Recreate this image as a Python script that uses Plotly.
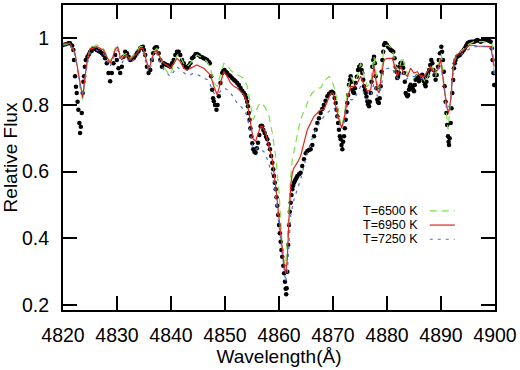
import plotly.graph_objects as go

# Observed spectrum (wavelength in Angstrom, relative flux)
observed = [
    (4820.00, 0.980), (4820.50, 0.982), (4821.00, 0.985), (4821.30, 0.985), (4821.70, 0.978),
    (4821.92, 0.965), (4822.04, 0.935), (4822.23, 0.886), (4822.40, 0.855), (4822.54, 0.836),
    (4822.70, 0.810), (4822.85, 0.786), (4823.03, 0.746), (4823.16, 0.716), (4823.30, 0.735),
    (4823.47, 0.776), (4823.65, 0.836), (4823.78, 0.870), (4823.90, 0.886), (4824.05, 0.915),
    (4824.21, 0.935), (4824.52, 0.945), (4824.80, 0.952), (4825.02, 0.960), (4825.30, 0.962),
    (4825.63, 0.970), (4826.00, 0.968), (4826.25, 0.965), (4826.60, 0.962), (4826.87, 0.960),
    (4827.20, 0.955), (4827.49, 0.950), (4827.80, 0.940), (4828.11, 0.925), (4828.42, 0.896),
    (4828.73, 0.871), (4829.04, 0.896), (4829.35, 0.925), (4829.66, 0.950), (4829.97, 0.935),
    (4830.28, 0.910), (4830.59, 0.896), (4830.90, 0.915), (4831.21, 0.945), (4831.52, 0.960),
    (4831.83, 0.955), (4832.15, 0.945), (4832.45, 0.935), (4832.75, 0.938), (4833.07, 0.940),
    (4833.38, 0.948), (4833.68, 0.955), (4834.00, 0.962), (4834.30, 0.970), (4834.55, 0.973),
    (4834.80, 0.975), (4835.00, 0.965), (4835.23, 0.950), (4835.54, 0.915), (4835.85, 0.896),
    (4836.16, 0.905), (4836.47, 0.935), (4836.70, 0.955), (4836.97, 0.970), (4837.20, 0.973),
    (4837.40, 0.973), (4837.71, 0.955), (4838.02, 0.935), (4838.33, 0.915), (4838.64, 0.925),
    (4838.95, 0.922), (4839.26, 0.920), (4839.57, 0.918), (4839.88, 0.915), (4840.20, 0.925),
    (4840.50, 0.935), (4840.80, 0.950), (4841.11, 0.960), (4841.42, 0.960), (4841.73, 0.950),
    (4842.05, 0.935), (4842.35, 0.925), (4842.66, 0.915), (4842.97, 0.910), (4843.28, 0.918),
    (4843.59, 0.925), (4843.90, 0.940), (4844.21, 0.945), (4844.52, 0.952), (4844.83, 0.953),
    (4845.14, 0.950), (4845.45, 0.945), (4845.76, 0.943), (4846.07, 0.940), (4846.38, 0.938),
    (4846.69, 0.935), (4847.00, 0.930), (4847.18, 0.925), (4847.43, 0.886), (4847.62, 0.846),
    (4847.80, 0.820), (4847.93, 0.811), (4848.15, 0.800), (4848.42, 0.786), (4848.62, 0.800),
    (4848.85, 0.826), (4849.16, 0.866), (4849.47, 0.896), (4849.70, 0.903), (4849.91, 0.905),
    (4850.15, 0.900), (4850.40, 0.896), (4850.70, 0.890), (4851.02, 0.886), (4851.33, 0.880),
    (4851.64, 0.876), (4851.95, 0.871), (4852.26, 0.866), (4852.57, 0.860), (4852.88, 0.851),
    (4853.20, 0.843), (4853.50, 0.836), (4853.75, 0.830), (4853.93, 0.821), (4854.10, 0.810),
    (4854.24, 0.796), (4854.40, 0.776), (4854.55, 0.756), (4854.70, 0.730), (4854.86, 0.706),
    (4855.05, 0.685), (4855.23, 0.667), (4855.45, 0.660), (4855.67, 0.657), (4855.90, 0.670),
    (4856.10, 0.687), (4856.35, 0.710), (4856.59, 0.736), (4856.75, 0.738), (4856.90, 0.736),
    (4857.10, 0.725), (4857.34, 0.716), (4857.60, 0.705), (4857.83, 0.697), (4858.08, 0.682),
    (4858.33, 0.667), (4858.55, 0.647), (4858.76, 0.627), (4858.92, 0.607), (4859.07, 0.587),
    (4859.22, 0.567), (4859.38, 0.547), (4859.54, 0.523), (4859.69, 0.498), (4859.85, 0.470),
    (4860.00, 0.440), (4860.15, 0.415), (4860.31, 0.390), (4860.45, 0.365), (4860.60, 0.345),
    (4860.80, 0.318), (4860.95, 0.295), (4861.10, 0.270), (4861.23, 0.249), (4861.33, 0.232),
    (4861.42, 0.250), (4861.54, 0.300), (4861.70, 0.380), (4861.85, 0.440), (4862.00, 0.480),
    (4862.16, 0.507), (4862.31, 0.530), (4862.47, 0.547), (4862.62, 0.558), (4862.78, 0.567),
    (4862.93, 0.572), (4863.09, 0.577), (4863.25, 0.582), (4863.40, 0.587), (4863.70, 0.592),
    (4864.00, 0.597), (4864.30, 0.617), (4864.63, 0.637), (4864.95, 0.655), (4865.25, 0.662),
    (4865.55, 0.665), (4865.86, 0.667), (4866.17, 0.680), (4866.48, 0.706), (4866.80, 0.726),
    (4867.10, 0.746), (4867.40, 0.760), (4867.70, 0.776), (4868.00, 0.788), (4868.30, 0.800),
    (4868.62, 0.813), (4868.95, 0.826), (4869.25, 0.833), (4869.57, 0.838), (4869.80, 0.840),
    (4870.06, 0.836), (4870.30, 0.821), (4870.50, 0.806), (4870.65, 0.786), (4870.80, 0.766),
    (4870.95, 0.746), (4871.10, 0.726), (4871.27, 0.706), (4871.42, 0.697), (4871.58, 0.680),
    (4871.73, 0.667), (4871.88, 0.690), (4872.04, 0.706), (4872.20, 0.730), (4872.35, 0.756),
    (4872.50, 0.780), (4872.65, 0.806), (4872.80, 0.830), (4872.96, 0.861), (4873.12, 0.875),
    (4873.27, 0.886), (4873.42, 0.870), (4873.58, 0.846), (4873.75, 0.838), (4873.90, 0.836),
    (4874.05, 0.850), (4874.20, 0.866), (4874.40, 0.885), (4874.63, 0.905), (4874.85, 0.915),
    (4875.12, 0.920), (4875.30, 0.905), (4875.43, 0.896), (4875.60, 0.876), (4875.74, 0.856),
    (4875.90, 0.845), (4876.05, 0.836), (4876.20, 0.825), (4876.36, 0.811), (4876.50, 0.802),
    (4876.67, 0.796), (4876.82, 0.810), (4876.98, 0.836), (4877.13, 0.870), (4877.28, 0.915),
    (4877.45, 0.935), (4877.60, 0.945), (4877.75, 0.925), (4877.90, 0.886), (4878.05, 0.850),
    (4878.20, 0.816), (4878.35, 0.808), (4878.50, 0.806), (4878.65, 0.820), (4878.83, 0.856),
    (4879.00, 0.900), (4879.14, 0.935), (4879.30, 0.960), (4879.44, 0.980), (4879.60, 0.985),
    (4879.75, 0.985), (4880.00, 0.980), (4880.19, 0.975), (4880.45, 0.970), (4880.68, 0.965),
    (4880.92, 0.963), (4881.17, 0.960), (4881.40, 0.940), (4881.60, 0.915), (4881.75, 0.900),
    (4881.90, 0.881), (4882.05, 0.885), (4882.20, 0.896), (4882.35, 0.915), (4882.50, 0.925),
    (4882.67, 0.927), (4882.84, 0.925), (4883.00, 0.912), (4883.15, 0.896), (4883.30, 0.870),
    (4883.46, 0.836), (4883.62, 0.830), (4883.77, 0.826), (4883.92, 0.830), (4884.07, 0.846),
    (4884.22, 0.855), (4884.38, 0.861), (4884.55, 0.855), (4884.70, 0.851), (4884.85, 0.846),
    (4885.00, 0.841), (4885.15, 0.860), (4885.30, 0.876), (4885.45, 0.882), (4885.62, 0.886),
    (4885.78, 0.880), (4885.93, 0.871), (4886.08, 0.878), (4886.23, 0.886), (4886.38, 0.888),
    (4886.54, 0.891), (4886.70, 0.880), (4886.85, 0.871), (4887.00, 0.862), (4887.16, 0.856),
    (4887.30, 0.870), (4887.47, 0.886), (4887.62, 0.896), (4887.80, 0.905), (4888.00, 0.920),
    (4888.20, 0.935), (4888.40, 0.925), (4888.60, 0.905), (4888.80, 0.890), (4889.00, 0.876),
    (4889.20, 0.890), (4889.44, 0.915), (4889.60, 0.935), (4889.80, 0.955), (4890.06, 0.975),
    (4890.20, 0.960), (4890.37, 0.935), (4890.52, 0.900), (4890.68, 0.856), (4890.85, 0.810),
    (4891.00, 0.776), (4891.15, 0.740), (4891.30, 0.706), (4891.40, 0.690), (4891.48, 0.680),
    (4891.60, 0.700), (4891.80, 0.746), (4891.95, 0.790), (4892.10, 0.836), (4892.25, 0.875),
    (4892.40, 0.910), (4892.55, 0.925), (4892.70, 0.935), (4893.00, 0.945), (4893.25, 0.948),
    (4893.50, 0.950), (4893.75, 0.955), (4893.95, 0.960), (4894.20, 0.965), (4894.40, 0.970),
    (4894.65, 0.978), (4894.90, 0.985), (4895.20, 0.988), (4895.50, 0.990), (4895.80, 0.990),
    (4896.10, 0.990), (4896.40, 0.992), (4896.70, 0.995), (4897.00, 0.993), (4897.35, 0.990),
    (4897.65, 0.993), (4897.96, 0.995), (4898.30, 0.995), (4898.58, 0.995), (4898.90, 0.993),
    (4899.20, 0.990), (4899.40, 0.970), (4899.55, 0.935), (4899.70, 0.896), (4899.85, 0.860),
]

# Model T=6500 K
model_6500 = [
    (4820.00, 0.980), (4821.30, 0.985), (4822.23, 0.955), (4822.85, 0.890), (4823.28, 0.840),
    (4823.65, 0.816), (4824.08, 0.880), (4824.52, 0.935), (4825.02, 0.970), (4825.63, 0.975),
    (4826.25, 0.980), (4826.87, 0.975), (4827.49, 0.970), (4828.11, 0.950), (4828.73, 0.930),
    (4829.23, 0.950), (4829.66, 0.970), (4830.10, 0.980), (4830.59, 0.950), (4830.90, 0.940),
    (4831.21, 0.950), (4831.83, 0.955), (4832.45, 0.940), (4833.07, 0.950), (4833.68, 0.960),
    (4834.30, 0.975), (4834.80, 0.975), (4835.23, 0.950), (4835.54, 0.925), (4835.85, 0.910),
    (4836.16, 0.920), (4836.78, 0.960), (4837.40, 0.970), (4838.02, 0.940), (4838.64, 0.915),
    (4839.26, 0.900), (4839.88, 0.890), (4840.50, 0.920), (4841.11, 0.950), (4841.73, 0.945),
    (4842.35, 0.925), (4842.97, 0.915), (4843.59, 0.925), (4844.21, 0.940), (4844.83, 0.950),
    (4845.45, 0.945), (4846.07, 0.940), (4846.69, 0.930), (4847.31, 0.910), (4847.93, 0.866),
    (4848.55, 0.856), (4849.16, 0.890), (4849.78, 0.925), (4850.40, 0.920), (4851.02, 0.905),
    (4851.64, 0.896), (4852.26, 0.890), (4852.88, 0.886), (4853.50, 0.880), (4854.12, 0.856),
    (4854.74, 0.796), (4855.23, 0.756), (4855.67, 0.776), (4856.10, 0.796), (4856.59, 0.806),
    (4856.90, 0.806), (4857.52, 0.790), (4858.14, 0.766), (4858.76, 0.716), (4859.38, 0.646),
    (4860.00, 0.540), (4860.31, 0.450), (4860.62, 0.375), (4860.93, 0.335), (4861.23, 0.318),
    (4861.54, 0.396), (4861.85, 0.497), (4862.16, 0.587), (4862.47, 0.637), (4863.09, 0.687),
    (4863.71, 0.736), (4864.32, 0.771), (4864.94, 0.791), (4865.56, 0.821), (4866.17, 0.836),
    (4867.10, 0.851), (4867.72, 0.851), (4868.33, 0.871), (4869.26, 0.886), (4869.88, 0.871),
    (4870.49, 0.836), (4871.11, 0.766), (4871.60, 0.736), (4872.04, 0.766), (4872.65, 0.836),
    (4873.27, 0.886), (4873.89, 0.866), (4874.51, 0.886), (4875.12, 0.925), (4875.74, 0.886),
    (4876.36, 0.856), (4876.98, 0.866), (4877.28, 0.915), (4877.59, 0.945), (4878.21, 0.866),
    (4878.52, 0.836), (4879.14, 0.925), (4879.44, 0.975), (4880.06, 0.980), (4880.99, 0.970),
    (4881.60, 0.915), (4882.22, 0.905), (4882.84, 0.945), (4883.46, 0.905), (4884.07, 0.886),
    (4884.69, 0.876), (4885.31, 0.886), (4885.93, 0.896), (4886.54, 0.886), (4887.16, 0.866),
    (4887.78, 0.896), (4888.40, 0.915), (4889.01, 0.886), (4889.63, 0.925), (4890.06, 0.955),
    (4890.56, 0.856), (4891.05, 0.766), (4891.30, 0.726), (4891.79, 0.816), (4892.28, 0.915),
    (4892.72, 0.950), (4893.64, 0.960), (4894.88, 0.980), (4896.11, 0.990), (4897.96, 0.990),
    (4899.51, 0.980), (4899.90, 0.886),
]

# Model T=6950 K
model_6950 = [
    (4820.00, 0.985), (4821.30, 0.985), (4822.23, 0.955), (4822.85, 0.896), (4823.28, 0.846),
    (4823.65, 0.821), (4824.08, 0.886), (4824.52, 0.935), (4825.02, 0.970), (4825.63, 0.970),
    (4826.25, 0.975), (4826.87, 0.970), (4827.49, 0.965), (4828.11, 0.945), (4828.73, 0.925),
    (4829.23, 0.945), (4829.66, 0.965), (4830.10, 0.975), (4830.59, 0.945), (4830.90, 0.935),
    (4831.21, 0.945), (4831.83, 0.950), (4832.45, 0.935), (4833.07, 0.945), (4833.68, 0.955),
    (4834.30, 0.970), (4834.80, 0.970), (4835.23, 0.945), (4835.54, 0.925), (4835.85, 0.910),
    (4836.16, 0.920), (4836.78, 0.955), (4837.40, 0.965), (4838.02, 0.940), (4838.64, 0.925),
    (4839.26, 0.920), (4839.88, 0.910), (4840.50, 0.925), (4841.11, 0.940), (4841.73, 0.930),
    (4842.35, 0.910), (4842.97, 0.905), (4843.59, 0.910), (4844.21, 0.915), (4844.83, 0.920),
    (4845.45, 0.915), (4846.07, 0.910), (4846.69, 0.900), (4847.31, 0.890), (4847.93, 0.856),
    (4848.55, 0.831), (4849.16, 0.866), (4849.78, 0.901), (4850.40, 0.886), (4851.02, 0.866),
    (4851.64, 0.856), (4852.26, 0.851), (4852.88, 0.841), (4853.50, 0.831), (4854.12, 0.806),
    (4854.74, 0.746), (4855.23, 0.697), (4855.67, 0.692), (4856.10, 0.716), (4856.59, 0.736),
    (4856.90, 0.736), (4857.52, 0.716), (4858.14, 0.677), (4858.76, 0.637), (4859.38, 0.557),
    (4860.00, 0.455), (4860.31, 0.398), (4860.93, 0.318), (4861.23, 0.293), (4861.54, 0.338),
    (4861.85, 0.458), (4862.16, 0.557), (4862.47, 0.597), (4862.78, 0.612), (4863.40, 0.627),
    (4864.01, 0.647), (4864.63, 0.687), (4865.25, 0.726), (4865.86, 0.746), (4866.48, 0.766),
    (4867.10, 0.776), (4867.72, 0.786), (4868.33, 0.786), (4868.95, 0.811), (4869.57, 0.836),
    (4870.06, 0.836), (4870.49, 0.796), (4871.11, 0.756), (4871.60, 0.731), (4872.04, 0.756),
    (4872.65, 0.816), (4873.27, 0.856), (4873.89, 0.856), (4874.51, 0.866), (4875.12, 0.886),
    (4875.74, 0.861), (4876.36, 0.841), (4876.98, 0.846), (4877.28, 0.886), (4877.59, 0.915),
    (4878.21, 0.846), (4878.52, 0.836), (4879.14, 0.905), (4879.44, 0.935), (4880.06, 0.940),
    (4880.99, 0.940), (4881.60, 0.905), (4881.91, 0.886), (4882.53, 0.915), (4883.15, 0.896),
    (4883.77, 0.886), (4884.38, 0.910), (4885.00, 0.896), (4885.62, 0.900), (4886.23, 0.886),
    (4886.85, 0.886), (4887.47, 0.900), (4888.09, 0.915), (4888.70, 0.896), (4889.32, 0.905),
    (4889.94, 0.935), (4890.56, 0.866), (4891.05, 0.796), (4891.42, 0.776), (4891.79, 0.816),
    (4892.28, 0.915), (4892.72, 0.945), (4893.33, 0.955), (4894.26, 0.965), (4894.88, 0.975),
    (4895.49, 0.980), (4896.73, 0.977), (4897.96, 0.977), (4899.20, 0.975), (4899.85, 0.915),
]

# Model T=7250 K
model_7250 = [
    (4820.00, 0.980), (4821.30, 0.980), (4822.23, 0.950), (4822.85, 0.885), (4823.28, 0.850),
    (4823.65, 0.836), (4824.08, 0.880), (4824.52, 0.925), (4825.02, 0.955), (4825.63, 0.960),
    (4826.25, 0.965), (4826.87, 0.960), (4827.49, 0.955), (4828.11, 0.935), (4828.73, 0.915),
    (4829.23, 0.935), (4829.66, 0.955), (4830.10, 0.965), (4830.59, 0.935), (4830.90, 0.925),
    (4831.21, 0.935), (4831.83, 0.940), (4832.45, 0.925), (4833.07, 0.935), (4833.68, 0.945),
    (4834.30, 0.960), (4834.80, 0.960), (4835.23, 0.935), (4835.54, 0.915), (4835.85, 0.900),
    (4836.16, 0.910), (4836.78, 0.945), (4837.40, 0.955), (4838.02, 0.925), (4838.64, 0.905),
    (4839.26, 0.895), (4839.88, 0.886), (4840.50, 0.900), (4841.11, 0.915), (4841.73, 0.905),
    (4842.35, 0.896), (4842.97, 0.890), (4843.59, 0.891), (4844.21, 0.895), (4844.83, 0.892),
    (4845.45, 0.886), (4846.07, 0.880), (4846.69, 0.876), (4847.31, 0.860), (4847.93, 0.836),
    (4848.55, 0.831), (4849.16, 0.841), (4849.78, 0.851), (4850.40, 0.846), (4851.02, 0.836),
    (4851.64, 0.821), (4852.26, 0.806), (4852.88, 0.796), (4853.50, 0.786), (4854.12, 0.766),
    (4854.74, 0.716), (4855.23, 0.667), (4855.67, 0.667), (4856.10, 0.672), (4856.59, 0.667),
    (4857.20, 0.660), (4857.83, 0.637), (4858.45, 0.606), (4859.07, 0.567), (4859.69, 0.478),
    (4860.00, 0.438), (4860.31, 0.388), (4860.93, 0.298), (4861.23, 0.269), (4861.54, 0.298),
    (4861.85, 0.388), (4862.16, 0.468), (4862.78, 0.517), (4863.40, 0.547), (4864.01, 0.577),
    (4864.63, 0.617), (4865.25, 0.657), (4865.86, 0.687), (4866.48, 0.716), (4867.10, 0.736),
    (4867.72, 0.751), (4868.33, 0.766), (4868.95, 0.776), (4869.57, 0.786), (4870.18, 0.791),
    (4870.80, 0.766), (4871.42, 0.736), (4872.04, 0.746), (4872.65, 0.796), (4873.27, 0.816),
    (4873.89, 0.816), (4874.51, 0.836), (4875.12, 0.856), (4875.74, 0.836), (4876.36, 0.816),
    (4876.98, 0.826), (4877.59, 0.866), (4878.21, 0.826), (4878.83, 0.846), (4879.44, 0.905),
    (4880.06, 0.910), (4880.99, 0.910), (4881.60, 0.886), (4882.22, 0.876), (4882.84, 0.905),
    (4883.46, 0.876), (4884.38, 0.886), (4885.62, 0.886), (4886.85, 0.876), (4888.09, 0.896),
    (4889.32, 0.896), (4889.94, 0.925), (4890.56, 0.856), (4891.17, 0.786), (4891.79, 0.806),
    (4892.28, 0.905), (4892.72, 0.940), (4893.64, 0.950), (4894.88, 0.965), (4896.11, 0.975),
    (4897.96, 0.975), (4899.51, 0.970), (4899.88, 0.896),
]

x_ticks = [4820, 4830, 4840, 4850, 4860, 4870, 4880, 4890, 4900]
y_ticks = [0.2, 0.4, 0.6, 0.8, 1.0]
y_tick_labels = ["0.2", "0.4", "0.6", "0.8", "1"]

legend_names = ["T=6500 K", "T=6950 K", "T=7250 K"]
colors = ["#7ee04a", "#e2241c", "#4f6fd6"]
dashes = ["7px,5px", "solid", "3px,5px"]

FONT = "Liberation Sans, Arial, Helvetica, sans-serif"

fig = go.Figure()
fig.add_trace(go.Scatter(
    x=[p[0] for p in observed], y=[p[1] for p in observed],
    mode="markers", marker=dict(color="black", size=4.5),
    showlegend=False, name="Observed"))

for name, data, c, d in zip(legend_names, [model_6500, model_6950, model_7250], colors, dashes):
    fig.add_trace(go.Scatter(
        x=[p[0] for p in data], y=[p[1] for p in data],
        mode="lines", line=dict(color=c, width=1.2, dash=d),
        showlegend=False, name=name))

# Manual legend (text right-aligned, sample line to the right)
leg_y = [0.325, 0.2785, 0.232]
for name, c, d, yy in zip(legend_names, colors, dashes, leg_y):
    fig.add_annotation(xref="paper", yref="paper", x=0.823, y=yy, text=name,
                       showarrow=False, xanchor="right", yanchor="middle", borderpad=0,
                       font=dict(family=FONT, size=12.5, color="black"))
    fig.add_shape(type="line", xref="paper", yref="paper", x0=0.849, x1=0.907, y0=yy, y1=yy,
                  line=dict(color=c, width=1.2, dash=d))

axis_common = dict(
    showgrid=False, zeroline=False, showline=True, linecolor="black", linewidth=2,
    mirror="ticks", ticks="inside", ticklen=14, tickwidth=2, tickcolor="black",
    tickfont=dict(family=FONT, size=19.5, color="black"),
)

fig.update_layout(
    width=520, height=370,
    margin=dict(l=63, r=25, t=3, b=60),
    plot_bgcolor="white", paper_bgcolor="white",
    font=dict(family=FONT, color="black"),
    xaxis=dict(range=[4820, 4900], tickvals=x_ticks, ticktext=[str(v) for v in x_ticks],
               title=dict(text="Wavelength(Å)", font=dict(family=FONT, size=19), standoff=4),
               ticklabelstandoff=7, **axis_common),
    yaxis=dict(range=[0.185, 1.10], tickvals=y_ticks, ticktext=y_tick_labels,
               title=dict(text="Relative Flux", font=dict(family=FONT, size=19), standoff=4),
               ticklabelstandoff=8, **axis_common),
)

fig.write_html("out.html")
